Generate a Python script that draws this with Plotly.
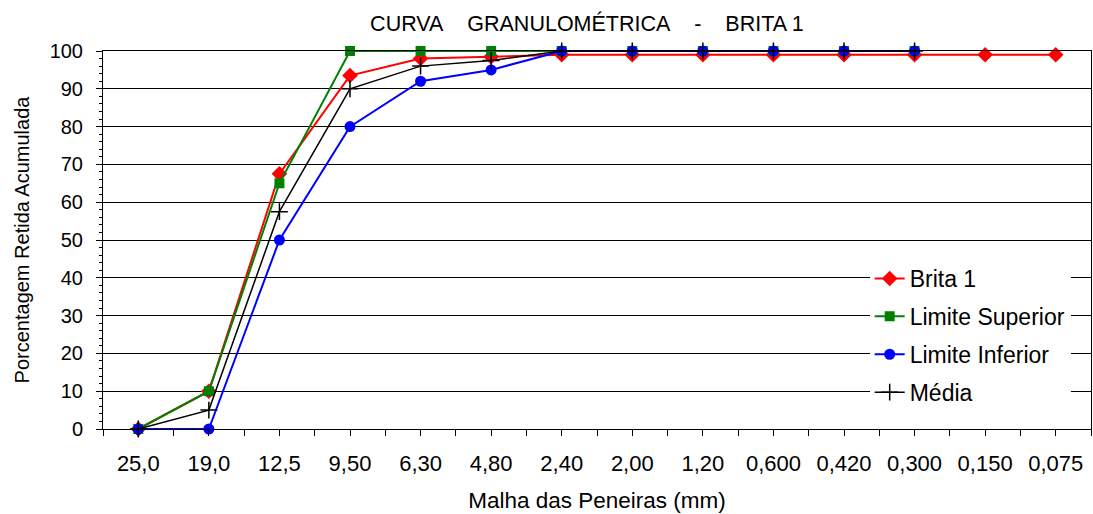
import plotly.graph_objects as go

# Sieve openings (mm) and accumulated retained percentages
peneiras = ["25,0", "19,0", "12,5", "9,50", "6,30", "4,80", "2,40",
            "2,00", "1,20", "0,600", "0,420", "0,300", "0,150", "0,075"]
brita_1 = [0, 10, 67.5, 93.5, 98, 98.5, 99, 99, 99, 99, 99, 99, 99, 99]
limite_superior = [0, 10, 65, 100, 100, 100, 100, 100, 100, 100, 100, 100]
limite_inferior = [0, 0, 50, 80, 92, 95, 100, 100, 100, 100, 100, 100]
media = [0, 5, 57.5, 90, 96, 97.5, 100, 100, 100, 100, 100, 100]
y_ticks = list(range(0, 101, 10))

FONT = "Liberation Sans, Arial, sans-serif"
pos = list(range(len(peneiras)))

series = [
    ("Brita 1", brita_1, "#FF0000", dict(symbol="diamond", size=12), 2),
    ("Limite Superior", limite_superior, "#008000", dict(symbol="square", size=10), 2),
    ("Limite Inferior", limite_inferior, "#0000FF", dict(symbol="circle", size=11), 2),
    ("Média", media, "#000000",
     dict(symbol="cross-thin-open", size=12, line=dict(width=1.5, color="#000000")), 1.5),
]

fig = go.Figure()
for name, vals, color, marker, lw in series:
    fig.add_trace(go.Scatter(
        x=pos[:len(vals)], y=vals, name=name, mode="lines+markers",
        line=dict(color=color, width=lw),
        marker=dict(color=color, **marker),
        cliponaxis=False, legendgroup=name,
    ))

fig.update_layout(
    width=1093, height=514,
    margin=dict(l=103, r=2, t=51, b=85),
    paper_bgcolor="white", plot_bgcolor="white",
    font=dict(family=FONT, size=20, color="black"),
    title=dict(
        text="CURVA\u00a0\u00a0\u00a0\u00a0GRANULOMÉTRICA\u00a0\u00a0\u00a0\u00a0-\u00a0\u00a0\u00a0\u00a0BRITA 1",
        x=0.537, xanchor="center", y=0.955, yanchor="middle",
        font=dict(family=FONT, size=21.5, color="black"),
    ),
    legend=dict(
        x=0.776, y=0.455, xanchor="left", yanchor="top",
        bgcolor="white", borderwidth=0,
        font=dict(family=FONT, size=23, color="black"),
        tracegroupgap=5,
    ),
    showlegend=True,
)

fig.update_xaxes(
    range=[-0.5, len(peneiras) - 0.5],
    tickmode="array", tickvals=pos, ticktext=peneiras,
    ticks="outside", ticklen=6, tickcolor="black", tickwidth=1,
    minor=dict(dtick=0.5, tick0=-0.5, ticks="outside", ticklen=6,
               tickcolor="black", showgrid=False),
    showgrid=False, zeroline=False,
    showline=True, linecolor="black", linewidth=1, mirror=True,
    tickfont=dict(family=FONT, size=22),
    ticklabelstandoff=9,
    title=dict(text="Malha das Peneiras (mm)", standoff=16,
               font=dict(family=FONT, size=22.5)),
)

fig.update_yaxes(
    range=[0, 100],
    tickmode="array", tickvals=y_ticks,
    ticks="outside", ticklen=6, tickcolor="black", tickwidth=1,
    minor=dict(dtick=2, tick0=0, ticks="outside", ticklen=3,
               tickcolor="black", showgrid=False),
    showgrid=True, gridcolor="black", gridwidth=1,
    zeroline=False,
    showline=True, linecolor="black", linewidth=1, mirror=True,
    tickfont=dict(family=FONT, size=20),
    ticklabelstandoff=9,
    title=dict(text="Porcentagem Retida Acumulada", standoff=14,
               font=dict(family=FONT, size=20)),
)

fig.write_html("out.html")
